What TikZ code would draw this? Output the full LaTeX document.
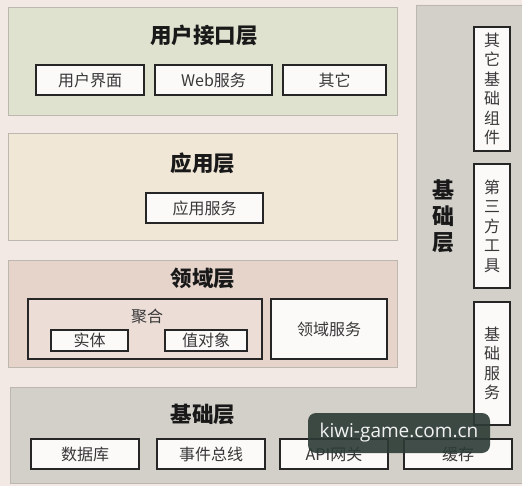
\documentclass[tikz,border=0pt]{standalone}
\usepackage{fontspec}
\setmainfont{Noto Sans CJK SC}
\newfontfamily\wmfont{Open Sans}
\definecolor{bgc}{HTML}{F2E9E5}
\definecolor{greenc}{HTML}{DFE2CF}
\definecolor{tanc}{HTML}{F1E7D7}
\definecolor{pinkc}{HTML}{E6D4CB}
\definecolor{aggc}{HTML}{ECDDD7}
\definecolor{grayc}{HTML}{D3D0C9}
\definecolor{edgec}{HTML}{BCB7AF}
\definecolor{boxc}{HTML}{FBFAF8}
\definecolor{wmc}{HTML}{2C3B35}
\tikzset{
  panel/.style={draw=edgec, line width=0.9pt},
  box/.style={draw=black!85, fill=boxc, line width=1.2pt, inner sep=0pt,
    font=\fontsize{16}{19}\selectfont, text=black!78},
  vbox/.style={box, align=center, font=\fontsize{16}{19.5}\selectfont},
  title/.style={font=\bfseries\fontsize{21.5}{26}\selectfont, text=black!90},
  wm/.style={fill=wmc, fill opacity=0.9, text opacity=1, text=white!95!black,
    rounded corners=8pt, inner sep=0pt, font=\wmfont\fontsize{19}{22}\selectfont}
}
\begin{document}
\begin{tikzpicture}[x=1pt,y=-1pt]
\useasboundingbox (0,0) rectangle (522,486);
\fill[bgc] (0,0) rectangle (522,486);
% panels
\draw[panel, fill=greenc] (8,7) rectangle (397,115);
\draw[panel, fill=tanc] (8,133) rectangle (397,240);
\draw[panel, fill=pinkc] (8,260) rectangle (397,367);
\draw[panel, fill=grayc] (416,5) -- (524,5) -- (524,483) -- (10,483) -- (10,387) -- (416,387) -- cycle;
% user interface layer
\node[title] (t1) at (204,35) {用户接口层};
\node[box, minimum width=108, minimum height=30] (ui) at (90,80) {用户界面};
\node[box, minimum width=117, minimum height=30] (web) at (213.5,80) {Web服务};
\node[box, minimum width=103, minimum height=30] (other) at (334.5,80) {其它};
% application layer
\node[title] (t2) at (203,163) {应用层};
\node[box, minimum width=117, minimum height=30] (app) at (204.5,208) {应用服务};
% domain layer
\node[title] (t3) at (203,278) {领域层};
\node[box, fill=aggc, minimum width=234, minimum height=60] (agg) at (145,329) {};
\node[font=\fontsize{16}{19}\selectfont, text=black!78] (aggl) at (147,316) {聚合};
\node[box, minimum width=77, minimum height=21] (ent) at (89.5,340.5) {实体};
\node[box, minimum width=82, minimum height=21] (vo) at (206,340.5) {值对象};
\node[box, minimum width=116, minimum height=60] (ds) at (329,329) {领域服务};
% infrastructure bottom
\node[title] (t4) at (203,414) {基础层};
\node[box, minimum width=108, minimum height=30] (db) at (85,454) {数据库};
\node[box, minimum width=108, minimum height=30] (bus) at (211,454) {事件总线};
\node[box, minimum width=108, minimum height=30] (api) at (334,454) {API网关};
\node[box, minimum width=108, minimum height=30] (cache) at (458,454) {缓存};
% infrastructure right
\node[title, align=center, font=\bfseries\fontsize{22}{26}\selectfont] (t5) at (443,216) {基\\础\\层};
\node[vbox, minimum width=36, minimum height=124] (comp) at (492,89) {其\\它\\基\\础\\组\\件};
\node[vbox, minimum width=36, minimum height=124] (tool) at (492,226) {第\\三\\方\\工\\具};
\node[vbox, minimum width=36, minimum height=123] (svc) at (492,363.5) {基\\础\\服\\务};
% watermark
\node[wm, minimum width=182, minimum height=40] (mark) at (399,433) {kiwi-game.com.cn};
\end{tikzpicture}
\end{document}
